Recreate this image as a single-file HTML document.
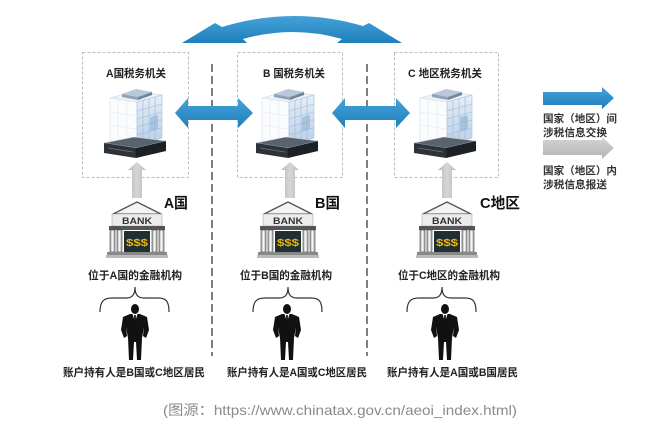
<!DOCTYPE html>
<html><head><meta charset="utf-8"><style>
html,body{margin:0;padding:0;background:#fff;}
svg{display:block;}
text{font-family:"Liberation Sans","Noto Sans CJK SC",sans-serif;}
</style></head><body>
<svg width="651" height="435" viewBox="0 0 651 435" xmlns="http://www.w3.org/2000/svg">
<defs>
<linearGradient id="blue" x1="0" y1="0" x2="0" y2="1">
<stop offset="0" stop-color="#45a2d8"/><stop offset="1" stop-color="#1f7fbd"/>
</linearGradient>
<linearGradient id="grayh" x1="0" y1="0" x2="0" y2="1">
<stop offset="0" stop-color="#d4d4d4"/><stop offset="1" stop-color="#b4b4b4"/>
</linearGradient>
<linearGradient id="grayv" x1="0" y1="0" x2="1" y2="0">
<stop offset="0" stop-color="#b8b8b8"/><stop offset="0.5" stop-color="#d6d6d6"/><stop offset="1" stop-color="#bcbcbc"/>
</linearGradient>
<linearGradient id="glass" x1="0" y1="0" x2="0" y2="1">
<stop offset="0" stop-color="#e4eef8"/><stop offset="1" stop-color="#b9d0e8"/>
</linearGradient>
<linearGradient id="col" x1="0" y1="0" x2="1" y2="0">
<stop offset="0" stop-color="#9a9a9a"/><stop offset="0.5" stop-color="#ffffff"/><stop offset="1" stop-color="#9a9a9a"/>
</linearGradient>

<!-- building centered at x=0, top y=0 (original top ~87) -->
<g id="bld">
<polygon points="-26,11 -1,4 26,8 1,15" fill="#eef2f7" stroke="#c9d3de" stroke-width="0.6"/>
<polygon points="-14,7 0,2 16,5 2,10" fill="#b9c8da"/>
<polygon points="-14,7 2,10 2,13 -14,10" fill="#8ea2ba"/>
<polygon points="2,10 16,5 16,8 2,13" fill="#6f86a2"/>
<polygon points="-26,11 1,15 1,58 -26,54" fill="#fbfcfe" stroke="#d3dbe5" stroke-width="0.6"/>
<polygon points="1,15 26,8 26,51 1,58" fill="url(#glass)" stroke="#a8bfd8" stroke-width="0.6"/>
<g stroke="#9fb8d4" stroke-width="0.6">
<line x1="7" y1="13.4" x2="7" y2="56.4"/><line x1="13" y1="11.7" x2="13" y2="54.7"/><line x1="19" y1="10" x2="19" y2="53"/>
<line x1="1" y1="24" x2="26" y2="17"/><line x1="1" y1="32" x2="26" y2="25"/><line x1="1" y1="40" x2="26" y2="33"/><line x1="1" y1="48" x2="26" y2="41"/>
</g>
<g stroke="#dfe5ec" stroke-width="0.5">
<line x1="-18" y1="12" x2="-18" y2="55"/><line x1="-9" y1="13" x2="-9" y2="56"/>
<line x1="-26" y1="25" x2="1" y2="29"/><line x1="-26" y1="38" x2="1" y2="42"/>
</g>
<polygon points="14,30 22,28 22,42 14,44" fill="#8fb0d3" opacity="0.6"/>
<polygon points="-32,56 -2,50 30,54 0,61" fill="#5a636d" stroke="#c8ced5" stroke-width="0.6"/>
<polygon points="-32,56 0,61 0,71 -32,66" fill="#2c3238"/>
<polygon points="0,61 30,54 30,64 0,71" fill="#1c2126"/>
<line x1="-28" y1="61" x2="-3" y2="65" stroke="#6c757e" stroke-width="0.8"/>
</g>

<!-- bank centered x=0, apex y=0 (original ~202) -->
<g id="bank">
<polygon points="-24,12 0,0 24,12" fill="#f4f4f4" stroke="#555" stroke-width="1.3" stroke-linejoin="round"/>
<rect x="-25" y="12" width="50" height="12" fill="#ececec" stroke="#999" stroke-width="0.5"/>
<text x="0" y="22" font-size="9" font-weight="bold" fill="#333" text-anchor="middle" textLength="30" lengthAdjust="spacingAndGlyphs">BANK</text>
<rect x="-28" y="24" width="56" height="4" fill="#555"/>
<rect x="-27" y="28" width="5" height="22" fill="url(#col)" stroke="#444" stroke-width="0.6"/>
<rect x="-20" y="28" width="5" height="22" fill="url(#col)" stroke="#444" stroke-width="0.6"/>
<rect x="15" y="28" width="5" height="22" fill="url(#col)" stroke="#444" stroke-width="0.6"/>
<rect x="22" y="28" width="5" height="22" fill="url(#col)" stroke="#444" stroke-width="0.6"/>
<rect x="-13" y="29" width="26" height="21" fill="#1f2f32"/>
<text x="0" y="44" font-size="10" font-weight="bold" fill="#e8b71a" text-anchor="middle" textLength="22" lengthAdjust="spacingAndGlyphs">$$$</text>
<rect x="-30" y="50" width="60" height="3" fill="#888"/>
<rect x="-31" y="53" width="62" height="3" fill="#bbb"/>
</g>

<!-- person centered x=0, head center y=0 (original ~309) -->
<g id="person">
<ellipse cx="0" cy="0" rx="4" ry="5" fill="#111"/>
<path d="M-5 5 L5 5 L12 8 L14 21 L11 29 L8 27 L9 18 L7 29 L6 51 L2 51 L1 33 L-1 33 L-2 51 L-6 51 L-7 29 L-9 18 L-8 27 L-11 29 L-14 21 L-12 8 Z" fill="#111"/>
<polygon points="-2.5,5 2.5,5 0,13" fill="#fff"/>
<polygon points="-0.8,6 0.8,6 1.2,18 0,20 -1.2,18" fill="#111"/>
</g>

<path id="brace" d="M-35 25 C-35 14 -31 11 -23 11 L-9 11 C-3 11 0 8 0 0 C0 8 3 11 9 11 L23 11 C31 11 34 14 34 25" fill="none" stroke="#333" stroke-width="1.2"/>
</defs>

<!-- top curved double arrow -->
<path d="M182 43 L215 23 L222 27 Q293 5.5 363 26 L369 23 L402 43 L337 43 L342 39 Q293 25 243 39 L247 43 Z" fill="url(#blue)"/>

<!-- boxes -->
<g fill="none" stroke="#bdbdbd" stroke-width="1" stroke-dasharray="3,2">
<rect x="82.5" y="52.5" width="106" height="125"/>
<rect x="237.5" y="52.5" width="105" height="125"/>
<rect x="394.5" y="52.5" width="104" height="125"/>
</g>

<!-- dashed vertical dividers -->
<g stroke="#555" stroke-width="1.5" stroke-dasharray="8,4">
<line x1="212" y1="64" x2="212" y2="356"/>
<line x1="367" y1="64" x2="367" y2="356"/>
</g>

<!-- titles -->
<g font-size="11" font-weight="bold" fill="#222">
<text x="106" y="77" textLength="60" lengthAdjust="spacingAndGlyphs">A国税务机关</text>
<text x="263" y="77" textLength="62" lengthAdjust="spacingAndGlyphs">B 国税务机关</text>
<text x="408" y="77" textLength="74" lengthAdjust="spacingAndGlyphs">C 地区税务机关</text>
</g>

<!-- buildings -->
<use href="#bld" transform="translate(136,87)"/>
<use href="#bld" transform="translate(288,87)"/>
<use href="#bld" transform="translate(446,87)"/>

<!-- horizontal double arrows -->
<path d="M175 113 L188 98 L188 106 L238 106 L238 98 L253 113 L238 128 L238 120 L188 120 L188 128 Z" fill="url(#blue)"/>
<path d="M332 113 L345 98 L345 106 L396 106 L396 98 L410 113 L396 128 L396 120 L345 120 L345 128 Z" fill="url(#blue)"/>

<!-- gray up arrows -->
<path d="M137 162 L146 170 L142 170 L142 198 L132 198 L132 170 L128 170 Z" fill="url(#grayv)"/>
<path d="M290 162 L299 170 L295 170 L295 198 L285 198 L285 170 L281 170 Z" fill="url(#grayv)"/>
<path d="M447 162 L456 170 L452 170 L452 198 L442 198 L442 170 L438 170 Z" fill="url(#grayv)"/>

<!-- country labels -->
<g font-size="15" font-weight="bold" fill="#111">
<text x="164" y="208" textLength="24" lengthAdjust="spacingAndGlyphs">A国</text>
<text x="315" y="208" textLength="25" lengthAdjust="spacingAndGlyphs">B国</text>
<text x="480" y="208" textLength="40" lengthAdjust="spacingAndGlyphs">C地区</text>
</g>

<!-- banks -->
<use href="#bank" transform="translate(137,202)"/>
<use href="#bank" transform="translate(288,202)"/>
<use href="#bank" transform="translate(447,202)"/>

<!-- bank labels -->
<g font-size="11" font-weight="bold" fill="#222">
<text x="88" y="279" textLength="94" lengthAdjust="spacingAndGlyphs">位于A国的金融机构</text>
<text x="240" y="279" textLength="92" lengthAdjust="spacingAndGlyphs">位于B国的金融机构</text>
<text x="398" y="279" textLength="102" lengthAdjust="spacingAndGlyphs">位于C地区的金融机构</text>
</g>

<!-- braces -->
<use href="#brace" transform="translate(135,287)"/>
<use href="#brace" transform="translate(288,287)"/>
<use href="#brace" transform="translate(442,287)"/>

<!-- persons -->
<use href="#person" transform="translate(135,309)"/>
<use href="#person" transform="translate(287,309)"/>
<use href="#person" transform="translate(445,309)"/>

<!-- bottom labels -->
<g font-size="11" font-weight="bold" fill="#222">
<text x="63" y="376" textLength="142" lengthAdjust="spacingAndGlyphs">账户持有人是B国或C地区居民</text>
<text x="227" y="376" textLength="140" lengthAdjust="spacingAndGlyphs">账户持有人是A国或C地区居民</text>
<text x="387" y="376" textLength="131" lengthAdjust="spacingAndGlyphs">账户持有人是A国或B国居民</text>
</g>

<!-- legend -->
<path d="M543 92 L602 92 L602 87 L614 98 L602 109 L602 105 L543 105 Z" fill="url(#blue)"/>
<path d="M543 140 L602 140 L602 137 L614 148 L602 159 L602 155 L543 155 Z" fill="url(#grayh)"/>
<g font-size="10.5" font-weight="bold" fill="#333">
<text x="543" y="122" textLength="74" lengthAdjust="spacingAndGlyphs">国家（地区）间</text>
<text x="543" y="136" textLength="64" lengthAdjust="spacingAndGlyphs">涉税信息交换</text>
<text x="543" y="174" textLength="74" lengthAdjust="spacingAndGlyphs">国家（地区）内</text>
<text x="543" y="188" textLength="64" lengthAdjust="spacingAndGlyphs">涉税信息报送</text>
</g>

<!-- caption -->
<text x="163" y="415" font-size="14" fill="#8a8a8a" textLength="354" lengthAdjust="spacingAndGlyphs">(图源：https://www.chinatax.gov.cn/aeoi_index.html)</text>
</svg>
</body></html>
